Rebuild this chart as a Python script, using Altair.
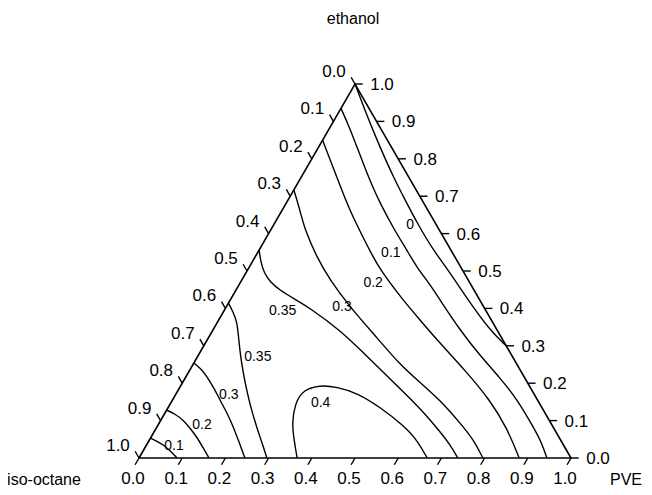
import altair as alt
import pandas as pd

# ---------------- data: contour lines as (PVE fraction, ethanol fraction) ----------------
c0_pve = [0.000, 0.058, 0.114, 0.168, 0.221, 0.271, 0.335, 0.403, 0.464, 0.551, 0.641, 0.700]
c0_eth = [1.000, 0.930, 0.864, 0.802, 0.743, 0.690, 0.623, 0.556, 0.503, 0.422, 0.342, 0.300]

c01_pve = [0.000, 0.047, 0.095, 0.140, 0.181, 0.217, 0.281, 0.342, 0.390, 0.443, 0.486, 0.572, 0.651, 0.729, 0.799, 0.866, 0.910, 0.944]
c01_eth = [0.935, 0.882, 0.824, 0.770, 0.722, 0.682, 0.615, 0.556, 0.508, 0.463, 0.422, 0.342, 0.275, 0.214, 0.155, 0.088, 0.043, 0.000]

c02_pve = [0.000, 0.044, 0.100, 0.156, 0.218, 0.268, 0.307, 0.400, 0.466, 0.543, 0.637, 0.735, 0.812, 0.880]
c02_eth = [0.850, 0.797, 0.730, 0.663, 0.596, 0.543, 0.503, 0.422, 0.369, 0.307, 0.235, 0.155, 0.080, 0.000]

c03_pve = [0.000, 0.041, 0.079, 0.143, 0.204, 0.286, 0.387, 0.480, 0.548, 0.619, 0.696, 0.751, 0.796]
c03_eth = [0.717, 0.663, 0.610, 0.537, 0.476, 0.404, 0.324, 0.249, 0.203, 0.155, 0.094, 0.048, 0.000]

c035a_pve = [0.000, 0.020, 0.042, 0.068, 0.101, 0.148, 0.195, 0.294, 0.368, 0.457, 0.547, 0.603, 0.662, 0.703, 0.738]
c035a_eth = [0.556, 0.524, 0.495, 0.471, 0.449, 0.425, 0.401, 0.342, 0.289, 0.225, 0.160, 0.118, 0.070, 0.035, 0.000]

c04_pve = [0.366, 0.335, 0.307, 0.288, 0.289, 0.321, 0.363, 0.418, 0.490, 0.567, 0.620, 0.667]
c04_eth = [0.000, 0.048, 0.094, 0.147, 0.182, 0.195, 0.190, 0.174, 0.136, 0.088, 0.048, 0.000]

c035b_pve = [0.000, 0.023, 0.045, 0.073, 0.105, 0.145, 0.186, 0.233, 0.265, 0.296]
c035b_eth = [0.414, 0.390, 0.364, 0.316, 0.262, 0.201, 0.142, 0.080, 0.040, 0.000]

c03b_pve = [0.000, 0.025, 0.049, 0.080, 0.110, 0.144, 0.177, 0.210, 0.245]
c03b_eth = [0.254, 0.238, 0.217, 0.187, 0.155, 0.120, 0.083, 0.043, 0.000]

c02b_pve = [0.000, 0.024, 0.051, 0.078, 0.106, 0.133, 0.162]
c02b_eth = [0.128, 0.118, 0.102, 0.080, 0.056, 0.029, 0.000]

c01b_pve = [0.000, 0.019, 0.039, 0.063, 0.088]
c01b_eth = [0.053, 0.045, 0.035, 0.019, 0.000]

# contour labels
lab_text = ["0", "0.1", "0.2", "0.3", "0.35", "0.35", "0.3", "0.2", "0.1", "0.4"]
lab_pve = [0.316, 0.309, 0.308, 0.268, 0.136, 0.140, 0.124, 0.102, 0.065, 0.347]
lab_eth = [0.623, 0.548, 0.468, 0.404, 0.393, 0.270, 0.168, 0.088, 0.032, 0.147]

tick_values = [0.0, 0.1, 0.2, 0.3, 0.4, 0.5, 0.6, 0.7, 0.8, 0.9, 1.0]
tick_labels = ["0.0", "0.1", "0.2", "0.3", "0.4", "0.5", "0.6", "0.7", "0.8", "0.9", "1.0"]

title_top = "ethanol"
title_left = "iso-octane"
title_right = "PVE"

# ---------------- layout constants (pixels per unit of the ternary frame) ----------------
PX_X = 432.0     # length of the triangle base
PX_Y = 374.0     # height of the triangle
W, H = 636, 479
U0 = -(139 - 8) / PX_X
U1 = U0 + W / PX_X
V1 = 1 + (84 - 8) / PX_Y
V0 = V1 - H / PX_Y
TK = 0.018       # tick length in fraction units


def cart(p, e):
    return p + e / 2.0, e


rows = []
contours = [
    ("c0", c0_pve, c0_eth), ("c01", c01_pve, c01_eth), ("c02", c02_pve, c02_eth),
    ("c03", c03_pve, c03_eth), ("c035a", c035a_pve, c035a_eth), ("c04", c04_pve, c04_eth),
    ("c035b", c035b_pve, c035b_eth), ("c03b", c03b_pve, c03b_eth), ("c02b", c02b_pve, c02b_eth),
    ("c01b", c01b_pve, c01b_eth),
]
for name, ps, es in contours:
    for i, (p, e) in enumerate(zip(ps, es)):
        u, v = cart(p, e)
        rows.append({"line": name, "ord": i, "u": u, "v": v})
contour_df = pd.DataFrame(rows)

frows = []
for i, (p, e) in enumerate([(0, 0), (1, 0), (0, 1), (0, 0)]):
    u, v = cart(p, e)
    frows.append({"ord": i, "u": u, "v": v})
frame_df = pd.DataFrame(frows)

# ticks
trows = []
for t in tick_values:
    u, v = cart(t, 0)
    u2, v2 = cart(t, -TK)
    trows.append({"u": u, "v": v, "u2": u2, "v2": v2})
    u, v = cart(1 - t, t)
    u2, v2 = cart(1 - t + TK, t)
    trows.append({"u": u, "v": v, "u2": u2, "v2": v2})
    u, v = cart(0, 1 - t)
    u2, v2 = cart(-TK, 1 - t + TK)
    trows.append({"u": u, "v": v, "u2": u2, "v2": v2})
ticks_df = pd.DataFrame(trows)

# tick labels
lrows = []
for t, s in zip(tick_values, tick_labels):
    u, v = cart(t, 0)
    lrows.append({"u": u - 6 / PX_X, "v": v - 21 / PX_Y, "t": s})
    u, v = cart(1 - t, t)
    lrows.append({"u": u + 27 / PX_X, "v": v - 1 / PX_Y, "t": s})
    u, v = cart(0, 1 - t)
    lrows.append({"u": u - 21 / PX_X, "v": v + 12 / PX_Y, "t": s})
ticklab_df = pd.DataFrame(lrows)

clab_rows = []
for s, p, e in zip(lab_text, lab_pve, lab_eth):
    u, v = cart(p, e)
    clab_rows.append({"u": u, "v": v, "t": s})
clab_df = pd.DataFrame(clab_rows)

titles_df = pd.DataFrame([
    {"u": (353 - 139) / PX_X, "v": (458 - 19) / PX_Y, "t": title_top},
    {"u": (44 - 139) / PX_X, "v": (458 - 480) / PX_Y, "t": title_left},
    {"u": (626 - 139) / PX_X, "v": (458 - 480) / PX_Y, "t": title_right},
])

xs = alt.Scale(domain=[U0, U1], nice=False, zero=False)
ys = alt.Scale(domain=[V0, V1], nice=False, zero=False)
X = alt.X("u:Q", scale=xs, axis=None)
Y = alt.Y("v:Q", scale=ys, axis=None)
FONT = "Liberation Sans"

contour_lines = alt.Chart(contour_df).mark_line(
    color="black", strokeWidth=1.4, interpolate="basis"
).encode(x=X, y=Y, detail="line:N", order="ord:Q")

frame = alt.Chart(frame_df).mark_line(
    color="black", strokeWidth=1.6
).encode(x=X, y=Y, order="ord:Q")

ticks = alt.Chart(ticks_df).mark_rule(color="black", strokeWidth=1.4).encode(
    x=X, y=Y, x2="u2:Q", y2="v2:Q"
)

ticklabs = alt.Chart(ticklab_df).mark_text(
    font=FONT, fontSize=17, color="black", align="center", baseline="middle"
).encode(x=X, y=Y, text="t:N")

clabs = alt.Chart(clab_df).mark_text(
    font=FONT, fontSize=14, color="black", align="center", baseline="middle"
).encode(x=X, y=Y, text="t:N")

titles = alt.Chart(titles_df).mark_text(
    font=FONT, fontSize=16, color="black", align="center", baseline="middle"
).encode(x=X, y=Y, text="t:N")

chart = alt.layer(contour_lines, frame, ticks, ticklabs, clabs, titles).properties(
    width=W, height=H, padding=0, autosize="none"
).configure_view(stroke=None)

chart.save("out.html", embed_options={"renderer": "svg", "actions": False})
